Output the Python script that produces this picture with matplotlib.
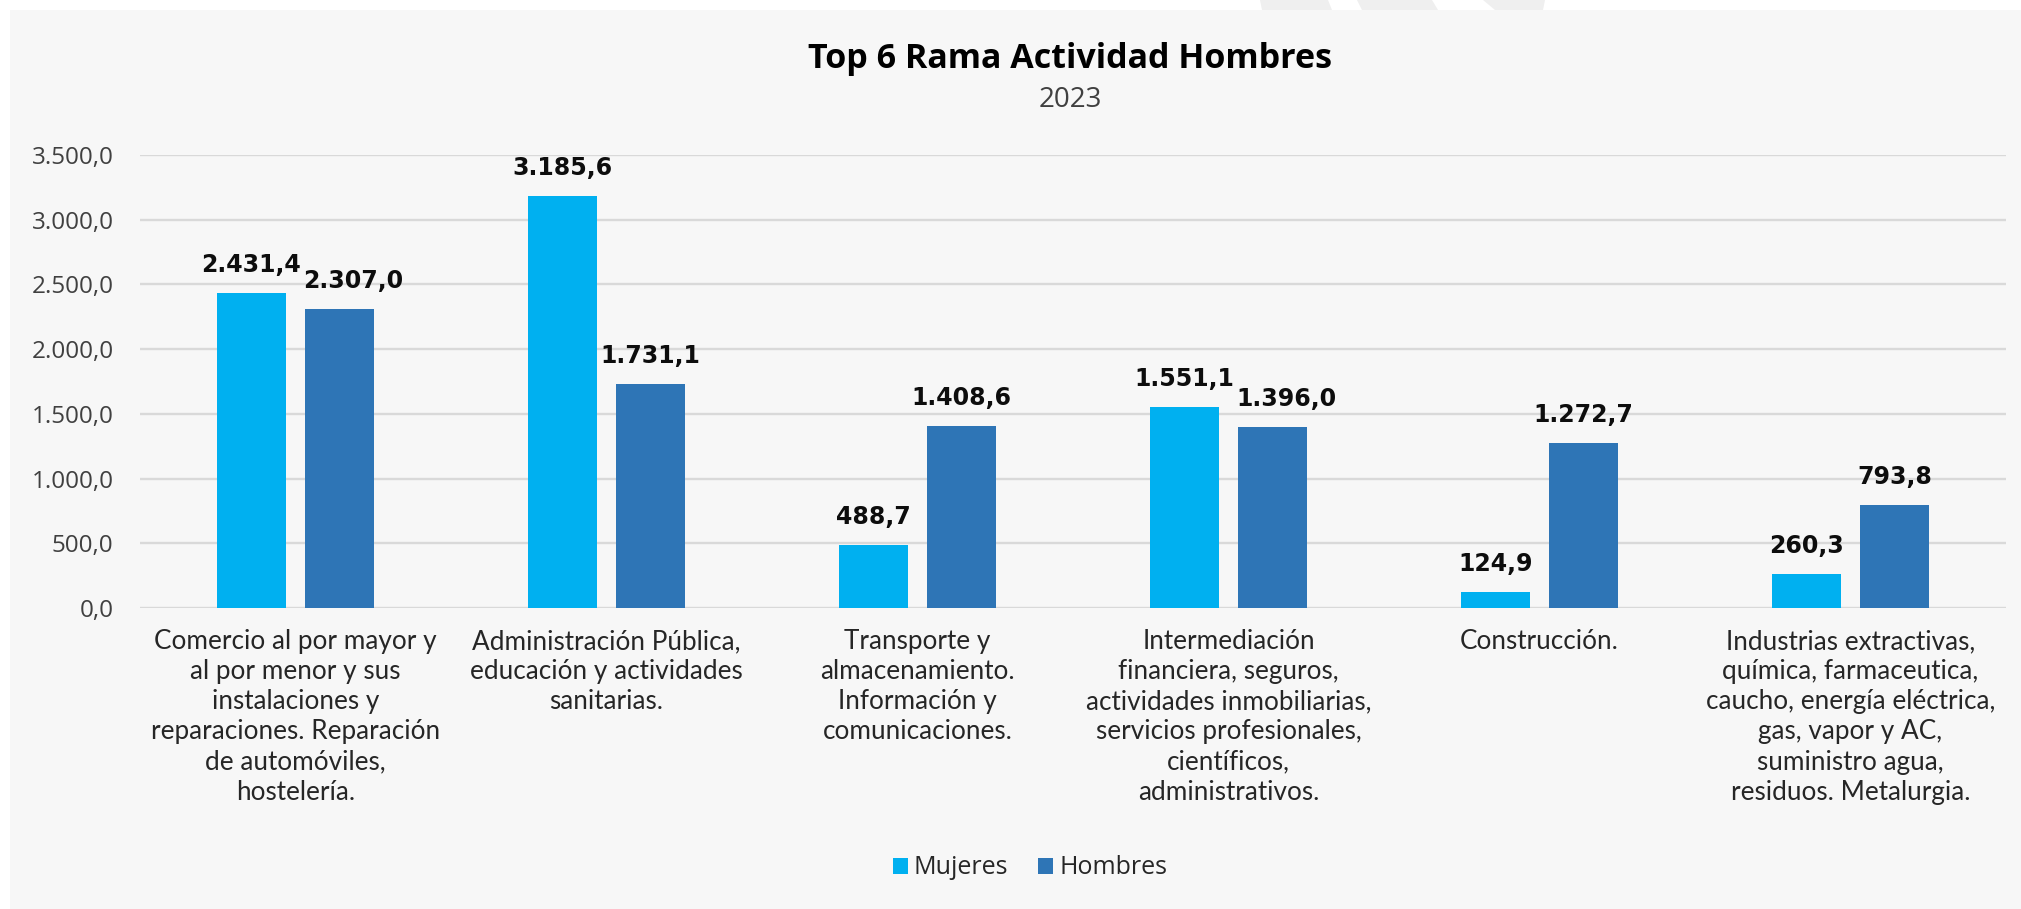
import matplotlib
matplotlib.use('Agg')
import matplotlib.pyplot as plt
from matplotlib.patches import Rectangle, Polygon
from matplotlib.transforms import offset_copy
import numpy as np

# ---------------- data ----------------
categories = [
    "Comercio al por mayor y\nal por menor y sus\ninstalaciones y\nreparaciones. Reparación\nde automóviles,\nhostelería.",
    "Administración Pública,\neducación y actividades\nsanitarias.",
    "Transporte y\nalmacenamiento.\nInformación y\ncomunicaciones.",
    "Intermediación\nfinanciera, seguros,\nactividades inmobiliarias,\nservicios profesionales,\ncientíficos,\nadministrativos.",
    "Construcción.",
    "Industrias extractivas,\nquímica, farmaceutica,\ncaucho, energía eléctrica,\ngas, vapor y AC,\nsuministro agua,\nresiduos. Metalurgia.",
]
mujeres = [2431.4, 3185.6, 488.7, 1551.1, 124.9, 260.3]
hombres = [2307.0, 1731.1, 1408.6, 1396.0, 1272.7, 793.8]
series_names = ["Mujeres", "Hombres"]
ytick_values = [0, 500, 1000, 1500, 2000, 2500, 3000, 3500]
title_text = "Top 6 Rama Actividad Hombres"
subtitle_text = "2023"

# ---------------- style ----------------
W, H = 2021, 909
col_m = "#00B0F0"
col_h = "#2E75B6"
panel_col = "#F7F7F7"
grid_col = "#D9D9D9"


def es_fmt(v):
    s = f"{v:,.1f}"
    return s.replace(",", "X").replace(".", ",").replace("X", ".")


fig = plt.figure(figsize=(W / 100, H / 100), dpi=100)
fig.patch.set_facecolor("white")

# background panel
fig.patches.append(Rectangle((10 / W, 0), 1, (H - 10) / H, transform=fig.transFigure,
                             facecolor=panel_col, edgecolor="none", zorder=-2))
# small decorative shapes in the top band
for (tl, tr, bl, br) in [(1260, 1328, 1262, 1332), (1357, 1432, 1362, 1438), (1483, 1545, 1495, 1543)]:
    pts = [(tl / W, 1), (tr / W, 1), (br / W, 1 - 10 / H), (bl / W, 1 - 10 / H)]
    fig.patches.append(Polygon(pts, closed=True, transform=fig.transFigure,
                               facecolor="#EFEFEF", edgecolor="none", zorder=-2))

left, right = 140 / W, 2006 / W
bottom, top = 1 - 608 / H, 1 - 155 / H
ax = fig.add_axes([left, bottom, right - left, top - bottom])
ax.set_zorder(1)
ax.set_facecolor("none")

x = np.arange(len(categories))
bw = 0.222
off = 0.142
b1 = ax.bar(x - off, mujeres, width=bw, color=col_m, label=series_names[0], zorder=3)
b2 = ax.bar(x + off, hombres, width=bw, color=col_h, label=series_names[1], zorder=3)

ax.set_xlim(-0.5, len(categories) - 0.5)
ax.set_ylim(0, 3500)
ax.set_yticks(ytick_values)
ax.set_yticklabels([es_fmt(v) for v in ytick_values], fontfamily="Open Sans",
                   fontsize=17.5, color="#404040")
ax.set_xticks(x)
ax.set_xticklabels(categories, fontfamily="Lato", fontsize=18.8, color="#262626",
                   ha="center", multialignment="center", linespacing=1.26)
ax.tick_params(axis="x", length=0, pad=15)
ax.tick_params(axis="y", length=0, pad=19)
for s in ax.spines.values():
    s.set_visible(False)
ax.set_axisbelow(True)
ax.yaxis.grid(True, color=grid_col, linewidth=1.7)
ax.xaxis.grid(False)

label_kw = dict(textcoords="offset points", ha="center", va="bottom",
                fontfamily="DejaVu Sans", fontweight="bold", fontsize=17, color="#0D0D0D")
lab_m, lab_h = [], []
for rect, v in zip(b1, mujeres):
    lab_m.append(ax.annotate(es_fmt(v), (rect.get_x() + rect.get_width() / 2, v),
                             xytext=(0, 11.5), **label_kw))
for rect, v in zip(b2, hombres):
    lab_h.append(ax.annotate(es_fmt(v), (rect.get_x() + rect.get_width() / 2, v),
                             xytext=(0, 11.5), **label_kw))

# nudge overlapping labels apart (like the spreadsheet does)
fig.canvas.draw()
renderer = fig.canvas.get_renderer()
for lm, lh in zip(lab_m, lab_h):
    bm = lm.get_window_extent(renderer)
    bh = lh.get_window_extent(renderer)
    if bm.overlaps(bh):
        dx = bm.x1 - bh.x0 + 2  # pixels
        lh.xyann = (dx * 72 / fig.dpi, lh.xyann[1])

fig.text(1070 / W, 1 - 68 / H, title_text, ha="center", va="baseline",
         fontfamily="Open Sans", fontweight="bold", fontsize=24.5, color="#000000")
fig.text(1070 / W, 1 - 107 / H, subtitle_text, ha="center", va="baseline",
         fontfamily="Open Sans", fontsize=20, color="#404040")

leg = fig.legend(handles=[b1, b2], labels=series_names, loc="center",
                 bbox_to_anchor=(1030 / W, 1 - 868 / H), ncol=2, frameon=False,
                 prop={"family": "Open Sans", "size": 18}, handlelength=0.6, handleheight=0.6,
                 handletextpad=0.25, columnspacing=1.2, labelcolor="#262626")

fig.savefig("out.png", dpi=100, facecolor=fig.get_facecolor())
